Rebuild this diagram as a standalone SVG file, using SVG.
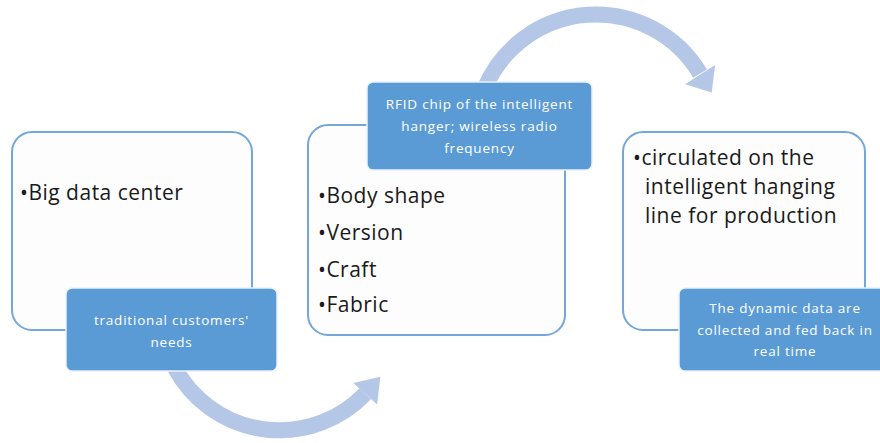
<svg xmlns="http://www.w3.org/2000/svg" width="880" height="443" viewBox="0 0 880 443">
  <style>
    .box { fill: #fdfdfd; stroke: #74a6da; stroke-width: 2; }
    .tag { fill: #5b9bd5; stroke: #e9f1fa; stroke-width: 1.5; }
    .body { font-family: "Open Sans", "Liberation Sans", sans-serif; font-size: 21px; letter-spacing: 0.5px; fill: #1a1a1a; }
    .tagtxt { font-family: "Open Sans", "Liberation Sans", sans-serif; font-size: 13.5px; letter-spacing: 0.8px; fill: #ffffff; text-anchor: middle; }
    .arc { fill: none; stroke: #b4c7e7; stroke-width: 16; }
    .head { fill: #b4c7e7; }
  </style>
  <rect width="880" height="443" fill="#ffffff"/>

  <!-- curved flow arrows -->
  <g id="connectors">
    <path class="arc" d="M 484 90 A 121 121 0 0 1 700.1 73.6"/>
    <polygon class="head" points="715.1,64.9 685.1,84.3 711.7,92.5"/>
    <path class="arc" d="M 175 368 A 118.7 118.7 0 0 0 365.2 393.7"/>
    <polygon class="head" points="377.1,404.4 353.3,383 380.4,376.8"/>
  </g>

  <g id="node-bigdata">
    <rect class="box" x="12" y="132" width="240" height="198" rx="20"/>
    <text class="body" x="20" y="200">•Big data center</text>
  </g>
  <g id="tag-needs">
    <rect class="tag" x="66" y="288" width="211" height="83" rx="6"/>
    <text class="tagtxt" x="171.5" y="325">traditional customers'</text>
    <text class="tagtxt" x="171.5" y="347">needs</text>
  </g>

  <g id="node-attributes">
    <rect class="box" x="308" y="125" width="257" height="210" rx="20"/>
    <text class="body" x="318" y="203">•Body shape</text>
    <text class="body" x="318" y="240">•Version</text>
    <text class="body" x="318" y="277">•Craft</text>
    <text class="body" x="318" y="312">•Fabric</text>
  </g>
  <g id="tag-rfid">
    <rect class="tag" x="367" y="82" width="225" height="88" rx="6"/>
    <text class="tagtxt" x="479.5" y="109">RFID chip of the intelligent</text>
    <text class="tagtxt" x="479.5" y="131">hanger; wireless radio</text>
    <text class="tagtxt" x="479.5" y="153">frequency</text>
  </g>

  <g id="node-production">
    <rect class="box" x="623" y="132" width="242" height="198" rx="20"/>
    <text class="body" x="633" y="165">•circulated on the</text>
    <text class="body" x="645" y="194">intelligent hanging</text>
    <text class="body" x="645" y="223">line for production</text>
  </g>
  <g id="tag-feedback">
    <rect class="tag" x="679" y="288" width="210" height="83" rx="6"/>
    <text class="tagtxt" x="785" y="313">The dynamic data are</text>
    <text class="tagtxt" x="785" y="335">collected and fed back in</text>
    <text class="tagtxt" x="785" y="356">real time</text>
  </g>
</svg>
